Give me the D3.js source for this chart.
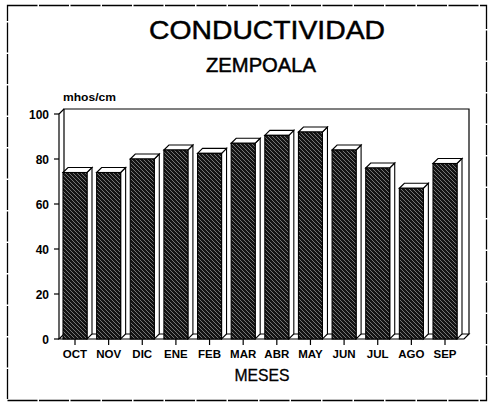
<!DOCTYPE html>
<html><head><meta charset="utf-8">
<script src="https://cdn.jsdelivr.net/npm/d3@7"></script>
<style>
html,body{margin:0;padding:0;background:#fff;}
svg{display:block;}
text{font-family:"Liberation Sans",Arial,sans-serif;fill:#000;}
</style></head>
<body><svg id="c" width="488" height="403"></svg>
<script>
const months = ["OCT","NOV","DIC","ENE","FEB","MAR","ABR","MAY","JUN","JUL","AGO","SEP"];
const values = [74, 74, 80, 84, 82.5, 87, 90.5, 92, 84, 76, 67, 78];
const yTicks = [0, 20, 40, 60, 80, 100];
const title = "CONDUCTIVIDAD";
const subtitle = "ZEMPOALA";
const yUnit = "mhos/cm";
const xTitle = "MESES";

const svg = d3.select("#c");
const dx = 5, dy = 5, bw = 24;
const y = d3.scaleLinear().domain([0,100]).range([339,114]);
const x = d3.scalePoint().domain(months).range([75,445]);
const axisX = 59, rightX = 464;

// pattern
const defs = svg.append("defs");
const pat = defs.append("pattern").attr("id","hatch").attr("patternUnits","userSpaceOnUse")
  .attr("width",4).attr("height",4);
pat.append("rect").attr("width",4).attr("height",4).attr("fill","#141414");
pat.append("path").attr("d","M0,0 L4,4 M-1,3 L1,5 M3,-1 L5,1").attr("stroke","#808080").attr("stroke-width",0.9);

// outer border
svg.append("rect").attr("x",7.5).attr("y",5.5).attr("width",479).attr("height",395)
  .attr("fill","none").attr("stroke","#000").attr("stroke-width",1.3).attr("stroke-dasharray","30,1.5");

// titles
svg.append("text").attr("x",267).attr("y",39).attr("text-anchor","middle")
  .attr("font-size",26.5).attr("stroke","#000").attr("stroke-width",0.5)
  .attr("textLength",236).attr("lengthAdjust","spacingAndGlyphs").text(title);
svg.append("text").attr("x",261).attr("y",72).attr("text-anchor","middle")
  .attr("font-size",20).attr("stroke","#000").attr("stroke-width",0.5)
  .attr("textLength",110).attr("lengthAdjust","spacingAndGlyphs").text(subtitle);
svg.append("text").attr("x",63).attr("y",101).attr("font-size",10).attr("font-weight","bold")
  .attr("textLength",53).attr("lengthAdjust","spacingAndGlyphs").text(yUnit);

// back wall
const g = svg.append("g").attr("fill","none").attr("stroke","#000").attr("stroke-width",1.2);
g.append("path").attr("d",`M${axisX+dx},${y(0)-dy} V${y(100)-dy} H${rightX+dx} V${y(0)-dy}`);
// floor
g.append("path").attr("d",`M${axisX},${y(0)} H${rightX} L${rightX+dx},${y(0)-dy} H${axisX+dx} Z`).attr("fill","#fff");
// y axis
g.append("path").attr("d",`M${axisX},${y(0)} V${y(100)} L${axisX+dx},${y(100)-dy}`);

// y ticks
const yg = svg.append("g");
yTicks.forEach(t=>{
  yg.append("line").attr("x1",axisX-5).attr("x2",axisX).attr("y1",y(t)).attr("y2",y(t)).attr("stroke","#000").attr("stroke-width",1.2);
  yg.append("text").attr("x",axisX-10).attr("y",y(t)+4.5).attr("text-anchor","end")
    .attr("font-size",12).attr("font-weight","bold").text(t);
});

// bars
const bars = svg.append("g").selectAll("g").data(months).join("g");
bars.each(function(m,i){
  const gg = d3.select(this);
  const cx = x(m), x0 = cx - bw/2, x1 = cx + bw/2, yt = y(values[i]), yb = y(0);
  gg.append("path").attr("d",`M${x1},${yb} V${yt} L${x1+dx},${yt-dy} V${yb-dy} Z`)
    .attr("fill","#fff").attr("stroke","#000").attr("stroke-width",1.1);
  gg.append("path").attr("d",`M${x0},${yt} L${x0+dx},${yt-dy} H${x1+dx} L${x1},${yt} Z`)
    .attr("fill","#fff").attr("stroke","#000").attr("stroke-width",1.1);
  gg.append("rect").attr("x",x0).attr("y",yt).attr("width",bw).attr("height",yb-yt)
    .attr("fill","url(#hatch)").attr("stroke","#000").attr("stroke-width",1.1);
});

// x ticks and labels
const xg = svg.append("g");
months.forEach(m=>{
  xg.append("line").attr("x1",x(m)).attr("x2",x(m)).attr("y1",y(0)).attr("y2",y(0)+6).attr("stroke","#000").attr("stroke-width",1.2);
  xg.append("text").attr("x",x(m)).attr("y",358).attr("text-anchor","middle")
    .attr("font-size",11.5).attr("font-weight","bold").text(m);
});
svg.append("text").attr("x",262).attr("y",381).attr("text-anchor","middle").attr("font-size",17)
  .attr("stroke","#000").attr("stroke-width",0.3)
  .attr("textLength",55).attr("lengthAdjust","spacingAndGlyphs").text(xTitle);
</script></body></html>
